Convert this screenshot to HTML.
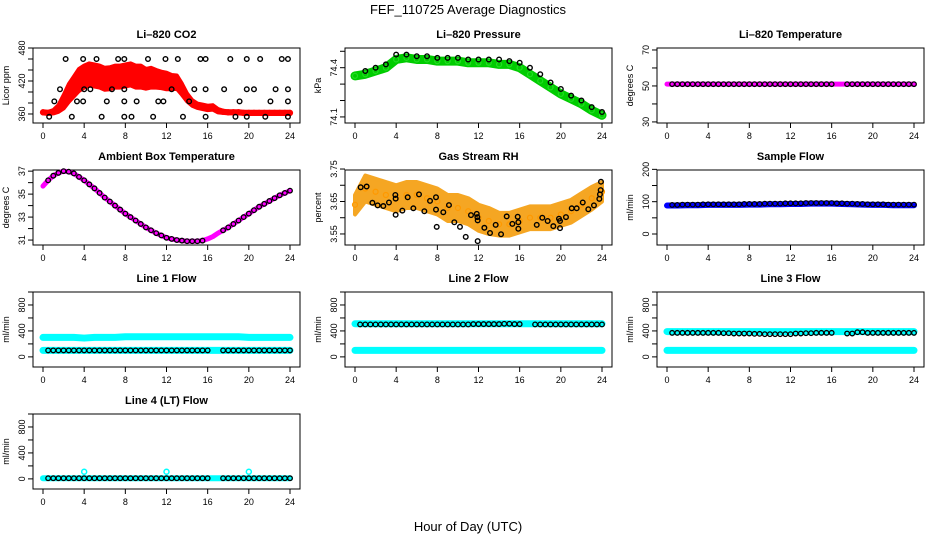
<!DOCTYPE html>
<html><head><meta charset="utf-8"><style>
html,body{margin:0;padding:0;background:#fff;}
svg{display:block;font-family:"Liberation Sans",sans-serif;}
</style></head><body>
<svg id="chart" width="936" height="540" viewBox="0 0 936 540" xmlns="http://www.w3.org/2000/svg">
<text x="468" y="14" text-anchor="middle" font-size="13">FEF_110725  Average Diagnostics</text>
<text x="468" y="531" text-anchor="middle" font-size="13">Hour of Day (UTC)</text>
</svg>
<script>
const HH=[0,1,2,3,4,5,6,7,8,9,10,11,12,13,14,15,16,17,18,19,20,21,22,23,24];
const HALF=[0,0.5,1,1.5,2,2.5,3,3.5,4,4.5,5,5.5,6,6.5,7,7.5,8,8.5,9,9.5,10,10.5,11,11.5,12,12.5,13,13.5,14,14.5,15,15.5,16,16.5,17,17.5,18,18.5,19,19.5,20,20.5,21,21.5,22,22.5,23,23.5,24];
const xTicks=[0,4,8,12,16,20,24];
// CO2
const co2Mid=[363,362,364,370,382,398,410,422,428,432,430,428,424,425,428,428,430,432,428,428,424,426,424,422,420,418,418,405,390,380,375,373,371,372,366,364,363,363,363,362,362,362,362,362,362,362,362,362,362];
const co2Spread=[2,2,3,6,12,16,18,20,20,20,20,20,20,20,20,20,20,20,20,20,18,18,16,15,15,13,12,10,7,5,4,4,4,4,3,2,2,2,2,2,2,2,2,2,2,2,2,2,2];
const co2BlackHours=[0.6,1.1,1.65,2.2,2.8,3.3,3.9,3.9,4.0,4.6,5.2,5.7,6.2,6.7,7.3,7.9,7.9,7.9,7.9,8.6,9.1,10.2,10.7,11.2,11.7,11.9,12.5,13.1,13.6,14.2,14.7,15.3,15.8,15.8,15.8,17.6,18.2,18.7,19.1,19.8,19.8,19.8,20.5,21.1,21.6,22.1,22.6,23.2,23.8,23.8,23.8,23.8];
const co2BlackVals=[355,383,405,460,355,383,460,383,405,405,460,355,383,405,460,460,405,383,355,355,383,460,355,383,383,460,405,460,355,383,405,460,460,405,355,405,460,355,383,460,405,355,405,460,355,383,405,460,460,405,383,355];
// Pressure
const pressMid=[74.35,74.36,74.38,74.40,74.45,74.46,74.45,74.45,74.44,74.44,74.44,74.43,74.43,74.43,74.42,74.42,74.40,74.36,74.32,74.28,74.24,74.21,74.18,74.14,74.11];
const pressBlack=[74.37,74.38,74.40,74.42,74.48,74.48,74.47,74.47,74.46,74.46,74.46,74.45,74.45,74.45,74.45,74.44,74.43,74.40,74.36,74.31,74.27,74.23,74.20,74.16,74.13];
// Li-820 temperature
const liTemp=[51,51,51,51,51,51,51,51,51,51,51,51,51,51,51,51,51,51,51,51,51,51,51,51,51];
// Ambient
const ambient=[35.7,36.2,36.6,36.85,37.0,36.95,36.8,36.5,36.2,35.85,35.5,35.1,34.7,34.35,34.0,33.65,33.3,33.0,32.7,32.4,32.1,31.85,31.6,31.4,31.2,31.1,31.0,30.95,30.9,30.9,30.9,30.95,31.1,31.3,31.6,31.85,32.1,32.4,32.7,33.0,33.3,33.6,33.9,34.15,34.4,34.65,34.9,35.1,35.3];
// RH
const rhMid=[3.64,3.69,3.68,3.67,3.66,3.67,3.67,3.66,3.65,3.63,3.63,3.62,3.60,3.59,3.58,3.58,3.59,3.60,3.60,3.60,3.61,3.62,3.64,3.66,3.68];
const rhSpread=[0.03,0.04,0.04,0.04,0.04,0.04,0.04,0.04,0.04,0.04,0.04,0.04,0.04,0.04,0.035,0.035,0.035,0.035,0.035,0.035,0.035,0.035,0.035,0.035,0.03];
const rhBlackHours=[0.55,1.13,1.69,2.2,2.75,3.3,3.92,3.95,3.95,4.6,5.12,5.67,6.22,6.74,7.29,7.87,7.87,7.94,8.58,9.13,9.65,10.2,10.76,11.27,11.83,11.89,11.92,11.92,12.57,13.12,13.67,14.19,14.74,15.29,15.81,15.87,15.87,17.66,18.2,18.72,19.27,19.82,19.92,19.92,20.5,21.06,21.54,22.13,22.67,23.22,23.74,23.8,23.87,23.9];
const rhBlackVals=[3.694,3.696,3.646,3.638,3.636,3.647,3.670,3.659,3.609,3.622,3.663,3.629,3.672,3.620,3.652,3.663,3.625,3.572,3.617,3.639,3.586,3.572,3.541,3.608,3.612,3.602,3.592,3.528,3.569,3.553,3.578,3.549,3.604,3.581,3.603,3.586,3.566,3.578,3.600,3.590,3.574,3.597,3.590,3.568,3.602,3.629,3.629,3.647,3.626,3.638,3.658,3.672,3.685,3.711];
// Flows
const sampleFlow=[88,88,89,89,90,90,90,90,91,91,92,92,93,93,94,94,94,93,92,91,90,90,89,89,89];
const sampleBlack=[90,90,91,91,92,92,92,92,93,93,94,94,95,95,96,96,96,95,94,93,92,92,91,91,91];
const line1Hi=[300,300,300,300,290,300,300,300,310,310,310,310,310,310,310,310,310,310,310,310,300,300,300,300,300];
const line1Lo=[100,100,100,100,100,100,100,100,100,100,100,100,100,100,100,100,100,100,100,100,100,100,100,100,100];
const line1Black=[100,100,100,100,100,100,100,100,100,100,100,100,100,100,100,100,100,100,100,100,100,100,100,100,100];
const line2Hi=[510,510,510,510,510,510,510,510,510,510,510,510,510,510,510,510,510,510,510,510,510,510,510,510,510];
const line2Lo=[100,100,100,100,100,100,100,100,100,100,100,100,100,100,100,100,100,100,100,100,100,100,100,100,100];
const line2Black=[500,500,500,500,500,500,500,500,500,500,500,500,505,505,505,510,505,500,500,500,500,500,500,500,500];
const line3Hi=[390,390,390,390,390,390,390,390,390,390,390,390,390,390,390,390,390,390,390,390,390,390,390,390,390];
const line3Lo=[100,100,100,100,100,100,100,100,100,100,100,100,100,100,100,100,100,100,100,100,100,100,100,100,100];
const line3Black=[370,370,370,370,370,370,365,360,360,355,350,350,350,360,365,370,370,370,360,380,370,370,370,370,370];
const line4Cyan=[10,10,10,10,10,10,10,10,10,10,10,10,10,10,10,10,10,10,10,10,10,10,10,10,10];
const line4Black=[10,10,10,10,10,10,10,10,10,10,10,10,10,10,10,10,10,10,10,10,10,10,10,10,10];
const line4SpikeHours=[4,12,20];
const line4SpikeVals=[110,110,110];

const NS='http://www.w3.org/2000/svg';
const svg=document.getElementById('chart');
function mk(tag,attrs,parent){const e=document.createElementNS(NS,tag);for(const k in attrs)e.setAttribute(k,attrs[k]);(parent||svg).appendChild(e);return e;}

function panel(col,row,name,title,ylab,ymin,ymax,ticks,labels){
  const x0=[33,345,657][col], x1=x0+267, y0=48+122*row, y1=123+122*row;
  const g=mk('g',{});
  
  
  const sx=h=>x0+10+h/24*247;
  const sy=v=>y1-(v-ymin)/(ymax-ymin)*(y1-y0);
  const t=mk('text',{x:(x0+x1)/2,y:y0-10,'text-anchor':'middle','font-size':11,'font-weight':'bold'},g);
  t.textContent=title;
  
  
  const yt=mk('text',{x:0,y:0,'text-anchor':'middle','font-size':9,transform:`translate(${x0-24},${(y0+y1)/2}) rotate(-90)`},g);
  yt.textContent=ylab;
  
  
  const box=mk('rect',{x:x0,y:y0,width:x1-x0,height:y1-y0,fill:'none',stroke:'#000','stroke-width':1},g);
  
  
  const xa=mk('g',{},g);
  
  
  for(const h of xTicks){
    mk('line',{x1:sx(h),x2:sx(h),y1:y1,y2:y1+5,stroke:'#000'},xa);
    const l=mk('text',{x:sx(h),y:y1+16,'text-anchor':'middle','font-size':9},xa);l.textContent=h;
  }
  const ya=mk('g',{},g);
  
  
  for(const v of ticks){mk('line',{x1:x0,x2:x0-5,y1:sy(v),y2:sy(v),stroke:'#000'},ya);}
  for(const v of labels){
    const l=mk('text',{x:0,y:0,'text-anchor':'middle','font-size':9,transform:`translate(${x0-8},${sy(v)}) rotate(-90)`},ya);
    l.textContent=v;
  }
  const data=mk('g',{},g);
  return {sx,sy,g:data};
}
function band(p,name,hours,mid,spread,color){
  let pts=hours.map((h,i)=>p.sx(h)+','+p.sy(mid[i]+spread[i]));
  pts=pts.concat(hours.map((h,i)=>[h,i]).reverse().map(([h,i])=>p.sx(h)+','+p.sy(mid[i]-spread[i])));
  const e=mk('polygon',{points:pts.join(' '),fill:color,stroke:color,'stroke-width':4,'stroke-linejoin':'round'},p.g);
  
  
}
function thick(p,name,hours,vals,color,w){
  const e=mk('polyline',{points:hours.map((h,i)=>p.sx(h)+','+p.sy(vals[i])).join(' '),fill:'none',stroke:color,'stroke-width':w,'stroke-linejoin':'round','stroke-linecap':'round'},p.g);
  
  
}
function dots(p,name,hours,vals,color,r,sw){
  const g=mk('g',{},p.g);
  
  
  hours.forEach((h,i)=>{
    const c=mk('circle',{cx:p.sx(h),cy:p.sy(vals[i]),r:r,fill:'none',stroke:color,'stroke-width':sw},g);
    
    
  });
}
function subset(arr,idx){return idx.map(i=>arr[i]);}

// Panel 1: CO2
let p=panel(0,0,'co2','Li\u2013820 CO2','Licor ppm',343.6,480,[360,380,400,420,440,460,480],[360,420,480]);
band(p,'co2-red-band',HALF,co2Mid,co2Spread,'#ff0000');
dots(p,'co2-red-points',HALF,co2Mid,'#ff0000',2.5,1.3);
dots(p,'co2-black-points',co2BlackHours,co2BlackVals,'#000',2.3,1.4);

// Panel 2: Pressure
p=panel(1,0,'pressure','Li\u2013820 Pressure','kPa',74.063,74.52,[74.1,74.2,74.3,74.4,74.5],[74.1,74.4]);
thick(p,'pressure-green-band',HH,pressMid,'#00cc00',9);
dots(p,'pressure-green-points',HH,pressMid,'#22dd22',2.5,1.2);
dots(p,'pressure-black-points',HH.slice(1),pressBlack.slice(1),'#000',2.3,1.4);

// Panel 3: Li temp
p=panel(2,0,'li-temp','Li\u2013820 Temperature','degrees C',29.4,71.1,[30,40,50,60,70],[30,50,70]);
thick(p,'li-temp-magenta-line',HH,liTemp,'#ff00ff',5);
dots(p,'li-temp-black-points',HALF.filter(h=>h>0.2&&(h<16.2||h>17.2)),HALF.filter(h=>h>0.2&&(h<16.2||h>17.2)).map(h=>liTemp[0]),'#000',2.3,1.3);

// Panel 4: Ambient
p=panel(0,1,'ambient','Ambient Box Temperature','degrees C',30.57,37.1,[31,32,33,34,35,36,37],[31,33,35,37]);
thick(p,'ambient-magenta-line',HALF,ambient,'#ff00ff',5);
const ambIdx=HALF.map((h,i)=>i).filter(i=>i>0&&(HALF[i]<15.8||HALF[i]>17.2));
dots(p,'ambient-black-points',subset(HALF,ambIdx),subset(ambient,ambIdx),'#000',2.3,1.3);

// Panel 5: RH
p=panel(1,1,'rh','Gas Stream RH','percent',3.516,3.747,[3.55,3.60,3.65,3.70,3.75],[3.55,3.65,3.75]);
band(p,'rh-orange-band',HH,rhMid,rhSpread,'#f5a623');
dots(p,'rh-orange-points',HH,rhMid,'#ff9900',2.5,1.2);
dots(p,'rh-black-points',rhBlackHours,rhBlackVals,'#000',2.3,1.4);

// Panel 6: Sample flow
p=panel(2,1,'sample-flow','Sample Flow','ml/min',-34,198,[0,50,100,150,200],[0,100,200]);
thick(p,'sample-flow-blue-line',HH,sampleFlow,'#0000ff',6);
dots(p,'sample-flow-black-points',HALF.filter(h=>h>0.2),HALF.filter(h=>h>0.2).map(h=>sampleBlack[Math.round(h)]),'#000',2.3,1.2);

const flowTicks=[0,200,400,600,800,1000], flowLabels=[0,400,800];
// Line 1
p=panel(0,2,'line1-flow','Line 1 Flow','ml/min',-156,1000,flowTicks,flowLabels);
thick(p,'line1-cyan-high',HH,line1Hi,'#00ffff',7);
thick(p,'line1-cyan-low',HH,line1Lo,'#00ffff',7);
dots(p,'line1-black-points',HALF.filter(h=>h>0.2&&(h<16.2||h>17.2)),HALF.filter(h=>h>0.2&&(h<16.2||h>17.2)).map(h=>line1Black[Math.round(h)]),'#000',2.3,1.3);
// Line 2
p=panel(1,2,'line2-flow','Line 2 Flow','ml/min',-156,1000,flowTicks,flowLabels);
thick(p,'line2-cyan-high',HH,line2Hi,'#00ffff',7);
thick(p,'line2-cyan-low',HH,line2Lo,'#00ffff',7);
dots(p,'line2-black-points',HALF.filter(h=>h>0.2&&(h<16.2||h>17.2)),HALF.filter(h=>h>0.2&&(h<16.2||h>17.2)).map(h=>line2Black[Math.round(h)]),'#000',2.3,1.3);
// Line 3
p=panel(2,2,'line3-flow','Line 3 Flow','ml/min',-156,1000,flowTicks,flowLabels);
thick(p,'line3-cyan-high',HH,line3Hi,'#00ffff',7);
thick(p,'line3-cyan-low',HH,line3Lo,'#00ffff',7);
dots(p,'line3-black-points',HALF.filter(h=>h>0.2&&(h<16.2||h>17.2)),HALF.filter(h=>h>0.2&&(h<16.2||h>17.2)).map(h=>line3Black[Math.round(h)]),'#000',2.3,1.3);
// Line 4
p=panel(0,3,'line4-flow','Line 4 (LT) Flow','ml/min',-156,1000,flowTicks,flowLabels);
thick(p,'line4-cyan-line',HH,line4Cyan,'#00ffff',6);
dots(p,'line4-cyan-spikes',line4SpikeHours,line4SpikeVals,'#00ffff',2.5,1.5);
dots(p,'line4-black-points',HALF.filter(h=>h>0.2&&(h<16.2||h>17.2)),HALF.filter(h=>h>0.2&&(h<16.2||h>17.2)).map(h=>line4Black[Math.round(h)]),'#000',2.3,1.3);
</script>
</body></html>
